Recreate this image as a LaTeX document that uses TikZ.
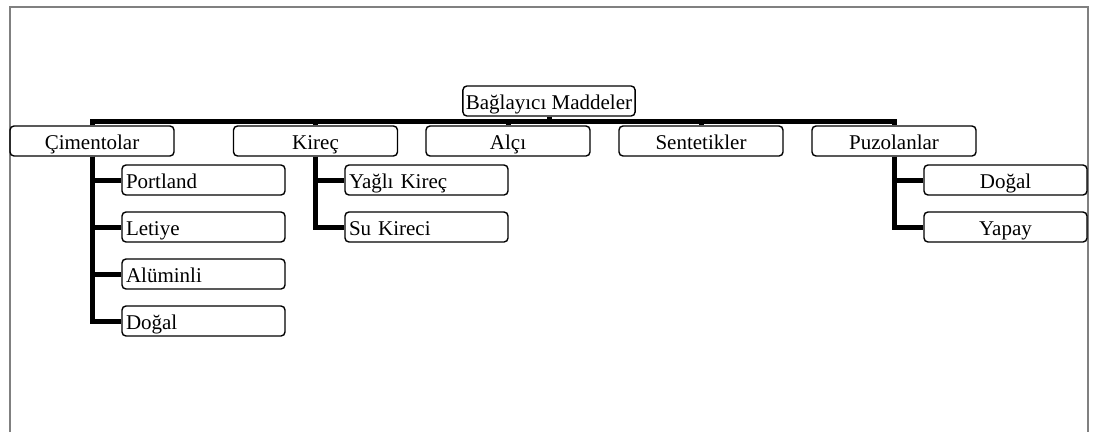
\documentclass[tikz,border=0pt]{standalone}
\usepackage{fontspec}
\setmainfont{Liberation Serif}
\usetikzlibrary{positioning}

\begin{document}
\begin{tikzpicture}[
  x=1pt,y=-1pt,
  box/.style={draw,line width=1.4pt,rounded corners=4pt,minimum height=30pt,
    inner sep=4pt,text height=18pt,text depth=2pt,
    font=\fontsize{21}{24}\selectfont},
  group/.style={box,minimum width=164pt},
  kind/.style={box,text width=155pt,align=left},
  kindc/.style={box,text width=155pt,align=center},
  link/.style={line width=5pt},
  frame/.style={draw=gray,line width=2pt}]

  \useasboundingbox (0,0) rectangle (1109,432);
  \draw[frame] (10,432) -- (10,7) -- (1088,7) -- (1088,432);

  \node[box,inner xsep=3pt] (root) at (549,101) {Bağlayıcı Maddeler};
  \coordinate (bar) at (0,121);

  \node[group] (cim) at (92,141) {Çimentolar};
  \node[group] (kir) at (315.5,141) {Kireç};
  \node[group] (alc) at (508,141) {Alçı};
  \node[group] (sen) at (701,141) {Sentetikler};
  \node[group] (puz) at (894,141) {Puzolanlar};

  % cimento turleri
  \node[kind] (portland) at (203.5,180) {Portland};
  \node[kind] (letiye) at (203.5,227) {Letiye};
  \node[kind] (aluminli) at (203.5,274) {Alüminli};
  \node[kind] (cdogal) at (203.5,321) {Doğal};

  % kirec turleri
  \node[kind] (yagli) at (426.5,180) {Yağlı Kireç};
  \node[kind] (su) at (426.5,227) {Su Kireci};

  % puzolan turleri
  \node[kindc] (pdogal) at (1005.5,180) {Doğal};
  \node[kindc] (yapay) at (1005.5,227) {Yapay};

  \draw[link] (root.south) -- (root.south |- bar);
  \draw[link] (cim.north) -- (cim.north |- bar) -| (puz.north);
  \draw[link] (kir.north) -- (kir.north |- bar);
  \draw[link] (alc.north) -- (alc.north |- bar);
  \draw[link] (sen.north) -- (sen.north |- bar);

  \draw[link] (cim.south) |- (portland.west);
  \draw[link] (cim.south) |- (letiye.west);
  \draw[link] (cim.south) |- (aluminli.west);
  \draw[link] (cim.south) |- (cdogal.west);

  \draw[link] (kir.south) |- (yagli.west);
  \draw[link] (kir.south) |- (su.west);

  \draw[link] (puz.south) |- (pdogal.west);
  \draw[link] (puz.south) |- (yapay.west);
\end{tikzpicture}
\end{document}
